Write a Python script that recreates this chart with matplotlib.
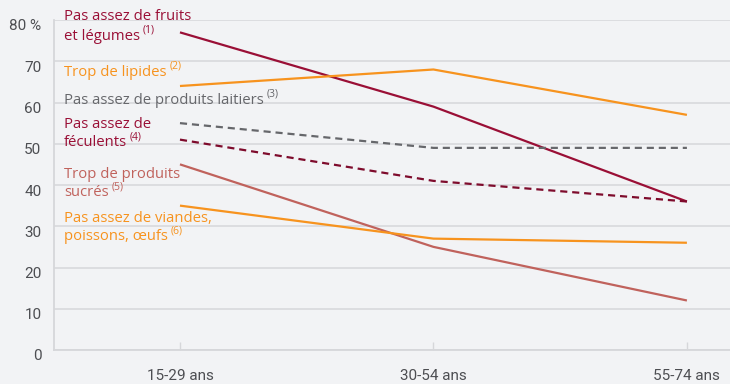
import matplotlib
matplotlib.use("Agg")
import matplotlib.pyplot as plt
from matplotlib.transforms import offset_copy

plt.rcParams["font.family"] = ["Roboto", "DejaVu Sans"]

# age groups and shares (%) per dietary issue
ages = ["15-29 ans", "30-54 ans", "55-74 ans"]
fruits_legumes = [77, 59, 36]
lipides = [64, 68, 57]
produits_laitiers = [55, 49, 49]
feculents = [51, 41, 36]
produits_sucres = [45, 25, 12]
viandes_poissons = [35, 27, 26]

y_ticks = [0, 10, 20, 30, 40, 50, 60, 70, 80]
y_tick_labels = ["0", "10", "20", "30", "40", "50", "60", "70", "80 %"]

BG = "#f2f3f5"
GRID = "#d6d7da"
DARK_RED = "#9a0f36"
ORANGE = "#f7931e"
GREY = "#66676b"
ROSE = "#c0625c"
TEXT = "#4d4e52"

fig = plt.figure(figsize=(7.3, 3.84), dpi=100, facecolor=BG)
ax = fig.add_axes([54 / 730, 34 / 384, 676 / 730, 330 / 384], facecolor=BG)

x = list(range(len(ages)))
series = [
    (fruits_legumes, DARK_RED, "-"),
    (lipides, ORANGE, "-"),
    (produits_laitiers, GREY, (0, (3.2, 2.2))),
    (feculents, "#7e0b2c", (0, (3.2, 2.2))),
    (produits_sucres, ROSE, "-"),
    (viandes_poissons, ORANGE, "-"),
]
for vals, col, ls in series:
    ax.plot(x, vals, color=col, lw=1.6, linestyle=ls, solid_capstyle="butt", zorder=3)

ax.set_xlim(-0.497, 2.17)
ax.set_ylim(0, 80)
ax.set_yticks(y_ticks)
ax.set_yticklabels(y_tick_labels)
ax.set_xticks(x)
ax.set_xticklabels(ages)
ax.grid(axis="y", color=GRID, lw=1.1, zorder=1)

for side in ["top", "right"]:
    ax.spines[side].set_visible(False)
for side in ["left", "bottom"]:
    ax.spines[side].set_color(GRID)
    ax.spines[side].set_linewidth(1.3)

ax.tick_params(axis="y", length=0, pad=9, labelsize=11, labelcolor=TEXT)
ax.tick_params(axis="x", direction="in", length=6, width=1, color=GRID,
               pad=14, labelsize=11, labelcolor=TEXT)
# y labels sit a little below their gridlines
for lab in ax.get_yticklabels():
    lab.set_transform(offset_copy(lab.get_transform(), fig=fig, x=0, y=-5, units="dots"))

fig.canvas.draw()
renderer = fig.canvas.get_renderer()

LABEL_FONT = ["Open Sans", "DejaVu Sans"]


def label(lines, y_px, color, note):
    """Multi-line series label with a small raised note after the last line."""
    step = 19
    last = None
    for i, line in enumerate(lines):
        t = fig.text(64 / 730, 1 - (y_px + i * step) / 384, line, color=color,
                     fontsize=10.7, va="center", ha="left", family=LABEL_FONT)
        last = t
    bb = last.get_window_extent(renderer)
    fig.text((bb.x1 + 3) / 730, (bb.y0 + bb.height * 0.55) / 384, note,
             color=color, fontsize=7.5, va="bottom", ha="left", family=LABEL_FONT)


label(["Pas assez de fruits", "et légumes"], 17, DARK_RED, "(1)")
label(["Trop de lipides"], 72, ORANGE, "(2)")
label(["Pas assez de produits laitiers"], 100, GREY, "(3)")
label(["Pas assez de", "féculents"], 124, DARK_RED, "(4)")
label(["Trop de produits", "sucrés"], 174, ROSE, "(5)")
label(["Pas assez de viandes,", "poissons, œufs"], 218, ORANGE, "(6)")

fig.savefig("out.png", dpi=100, facecolor=BG)
